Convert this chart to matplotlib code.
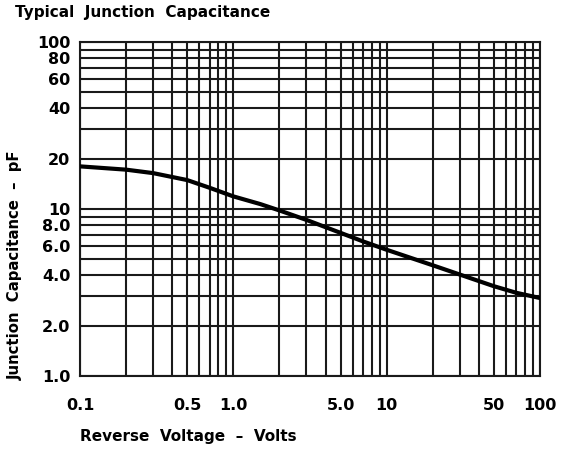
import numpy as np
import matplotlib.pyplot as plt
from matplotlib.ticker import FixedLocator, FixedFormatter, LogLocator, NullFormatter

# curve
voltage = [0.1, 0.2, 0.3, 0.5, 0.7, 1.0, 1.5, 2.0, 3.0, 5.0, 7.0, 10, 20, 30, 50, 70, 100]
capacitance = [18.0, 17.2, 16.4, 14.9, 13.4, 11.9, 10.7, 9.8, 8.6, 7.2, 6.4, 5.7, 4.6,
               4.05, 3.45, 3.15, 2.93]

x_ticks = [0.1, 0.5, 1.0, 5.0, 10, 50, 100]
x_labels = ['0.1', '0.5', '1.0', '5.0', '10', '50', '100']
y_ticks = [1, 2, 4, 6, 8, 10, 20, 40, 60, 80, 100]
y_labels = ['1.0', '2.0', '4.0', '6.0', '8.0', '10', '20', '40', '60', '80', '100']

plt.rcParams['font.family'] = ['DejaVu Sans']

fig = plt.figure(figsize=(5.7, 4.53), dpi=100)
ax = fig.add_axes([80 / 570, 1 - 376 / 453, 460 / 570, 334 / 453])

ax.plot(voltage, capacitance, color='black', lw=3, solid_joinstyle='round', zorder=3)

ax.set_xscale('log')
ax.set_yscale('log')
ax.set_xlim(0.1, 100)
ax.set_ylim(1, 100)

ax.xaxis.set_major_locator(FixedLocator(x_ticks))
ax.xaxis.set_major_formatter(FixedFormatter(x_labels))
ax.yaxis.set_major_locator(FixedLocator(y_ticks))
ax.yaxis.set_major_formatter(FixedFormatter(y_labels))
ax.xaxis.set_minor_locator(LogLocator(base=10, subs=np.arange(1, 10), numticks=20))
ax.yaxis.set_minor_locator(LogLocator(base=10, subs=np.arange(1, 10), numticks=20))
ax.xaxis.set_minor_formatter(NullFormatter())
ax.yaxis.set_minor_formatter(NullFormatter())

ax.grid(True, which='both', color='#1a1a1a', lw=1.5)
ax.tick_params(which='both', length=0)
ax.tick_params(axis='x', pad=16, labelsize=11.5)
ax.tick_params(axis='y', pad=7, labelsize=11.5)
for lbl in ax.get_xticklabels() + ax.get_yticklabels():
    lbl.set_fontweight('bold')
for s in ax.spines.values():
    s.set_linewidth(1.5)
    s.set_color('#1a1a1a')

fig.text(15 / 570, 1 - 12 / 453, 'Typical  Junction  Capacitance', fontsize=11,
         fontweight='bold', ha='left', va='center')
fig.text(80 / 570, 1 - 437 / 453, 'Reverse  Voltage  \u2013  Volts', fontsize=11,
         fontweight='bold', ha='left', va='center')
fig.text(15 / 570, 1 - 265 / 453, 'Junction  Capacitance  \u2013  pF', fontsize=10.7,
         fontweight='bold', ha='center', va='center', rotation=90)

fig.savefig('out.png', dpi=100)
